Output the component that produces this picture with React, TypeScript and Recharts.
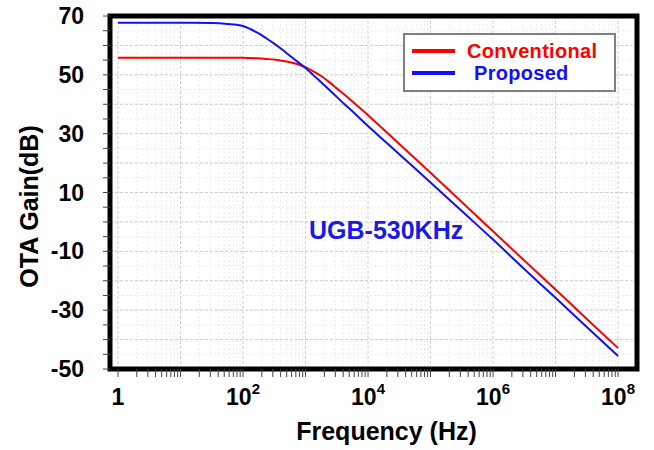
import { LineChart, Line, XAxis, YAxis, CartesianGrid, ReferenceArea, Legend, Label } from 'recharts';

// frequency points (Hz) and gains
const FREQ_HZ = [
  1, 3.16, 10, 31.6, 56.2, 100, 133, 178, 237, 316, 422, 562, 750, 1000, 1334, 1778, 2371, 3162, 4217, 5623, 7499,
  1e4, 1.78e4, 3.16e4, 1e5, 3.16e5, 1e6, 3.16e6, 1e7, 3.16e7, 1e8,
];
const CONVENTIONAL_DB = [
  55.8, 55.8, 55.8, 55.8, 55.8, 55.8, 55.7, 55.6, 55.4, 55.2, 54.8, 54.3, 53.6, 52.6, 51.2, 49.6, 47.6, 45.4, 43.2, 40.9, 38.6,
  36.3, 31.4, 26.5, 16.7, 6.8, -3.2, -13.1, -23.0, -33.0, -42.9,
];
const PROPOSED_DB = [
  67.7, 67.7, 67.7, 67.6, 67.3, 66.6, 65.5, 64.1, 62.4, 60.6, 58.6, 56.5, 54.4, 52.3, 49.9, 47.5, 45.0, 42.5, 40.0, 37.6, 35.1,
  32.6, 27.8, 23.0, 13.4, 3.7, -6.0, -16.0, -25.8, -35.7, -45.6,
];

const DECADES = [1, 10, 100, 1e3, 1e4, 1e5, 1e6, 1e7, 1e8];
const MINOR_STEPS = [2, 3, 4, 5, 6, 7, 8, 9];
const Y_TICKS = [-50, -45, -40, -35, -30, -25, -20, -15, -10, -5, 0, 5, 10, 15, 20, 25, 30, 35, 40, 45, 50, 55, 60, 65, 70];
const Y_LABELS = [-50, -30, -10, 10, 30, 50, 70];
const Y_MAJOR = [-50, -40, -30, -20, -10, 0, 10, 20, 30, 40, 50, 60, 70];

const X_MIN = 0.745;
const X_MAX = 2.01e8;
const FONT = '"Liberation Sans", Arial, sans-serif';
const RED = '#ff0000';
const BLUE = '#1010ff';

const data = FREQ_HZ.map((f, i) => ({ f, conv: CONVENTIONAL_DB[i], prop: PROPOSED_DB[i] }));
const minorX = DECADES.slice(0, -1).flatMap((d) => MINOR_STEPS.map((m) => m * d));
const xTicks = [...DECADES, ...minorX].sort((a, b) => a - b);

function XTick({ x, y, payload }: any) {
  const v = payload.value;
  const e = Math.round(Math.log10(v));
  if (Math.abs(v - 10 ** e) > 1e-6 * v || e % 2 !== 0) return <g />;
  return (
    <text x={x} y={y + 26} textAnchor="middle" fontSize={23} fontWeight="bold" fill="#000" fontFamily={FONT}>
      {e === 0 ? '1' : (
        <>
          <tspan>10</tspan>
          <tspan dy={-11} fontSize={15}>{e}</tspan>
        </>
      )}
    </text>
  );
}

function YTick({ x, y, payload }: any) {
  if (!Y_LABELS.includes(payload.value)) return <g />;
  return (
    <text x={x - 17} y={y + 8} textAnchor="end" fontSize={23} fontWeight="bold" fill="#000" fontFamily={FONT}>
      {payload.value}
    </text>
  );
}

function LegendBox() {
  const row = (color: string, label: string, top: number, textLeft: number) => (
    <div style={{ position: 'absolute', left: 0, top, width: '100%', height: 20 }}>
      <div style={{ position: 'absolute', left: 7, top: 8, width: 43, height: 4, background: color }} />
      <div style={{ position: 'absolute', left: textLeft, top: 0, color, lineHeight: '20px', letterSpacing: '0.3px' }}>{label}</div>
    </div>
  );
  return (
    <div style={{ position: 'relative', width: 213, height: 59, boxSizing: 'border-box', border: '2.5px solid #808080', background: '#fff', fontFamily: FONT, fontWeight: 'bold', fontSize: 20 }}>
      {row(RED, 'Conventional', 6, 62)}
      {row(BLUE, 'Proposed', 28, 69)}
    </div>
  );
}

export default function App() {
  return (
    <div style={{ position: 'absolute', left: 0, top: 0, width: 654, height: 450, background: '#fff' }}>
      <LineChart width={654} height={450} data={data} margin={{ top: 16, right: 17, bottom: 0, left: 0 }}>
        <CartesianGrid stroke="#ececec" strokeDasharray="2 2" horizontalValues={Y_TICKS} verticalValues={minorX} />
        <CartesianGrid stroke="#cfcfcf" strokeDasharray="3 2" horizontalValues={Y_MAJOR} verticalValues={DECADES} />
        <XAxis
          dataKey="f"
          type="number"
          scale="log"
          domain={[X_MIN, X_MAX]}
          allowDataOverflow
          ticks={xTicks}
          interval={0}
          height={81}
          axisLine={false}
          tickSize={8}
          tickLine={{ stroke: '#444' }}
          tick={<XTick />}
        >
          <Label
            content={({ viewBox }: any) => (
              <text x={viewBox.x + viewBox.width / 2 + 13} y={viewBox.y + 71} textAnchor="middle" fontSize={25} fontWeight="bold" fill="#000" fontFamily={FONT}>
                Frequency (Hz)
              </text>
            )}
          />
        </XAxis>
        <YAxis
          type="number"
          domain={[-50, 70]}
          allowDataOverflow
          ticks={Y_TICKS}
          interval={0}
          width={110}
          axisLine={false}
          tickSize={7}
          tickLine={{ stroke: '#444' }}
          tick={<YTick />}
        >
          <Label
            content={({ viewBox }: any) => (
              <text
                transform={`translate(${viewBox.x + 38}, ${viewBox.y + viewBox.height / 2 + 14}) rotate(-90)`}
                textAnchor="middle"
                fontSize={25}
                fontWeight="bold"
                fill="#000"
                fontFamily={FONT}
              >
                OTA Gain(dB)
              </text>
            )}
          />
        </YAxis>
        <Line type="monotone" dataKey="conv" name="Conventional" stroke={RED} strokeWidth={2} dot={false} isAnimationActive={false} />
        <Line type="monotone" dataKey="prop" name="Proposed" stroke={BLUE} strokeWidth={2} dot={false} isAnimationActive={false} />
        <ReferenceArea x1={X_MIN} x2={X_MAX} y1={-50} y2={70} fill="none" stroke="#000" strokeWidth={5} ifOverflow="visible" />
        <Legend layout="vertical" align="center" verticalAlign="middle" wrapperStyle={{ left: 403, top: 33, width: 213, height: 59 }} content={<LegendBox />} />
      </LineChart>
      <div style={{ position: 'absolute', left: 309, top: 218, color: '#1a1ae6', fontFamily: FONT, fontWeight: 'bold', fontSize: 25, lineHeight: '25px', whiteSpace: 'nowrap' }}>
        UGB-530KHz
      </div>
    </div>
  );
}
